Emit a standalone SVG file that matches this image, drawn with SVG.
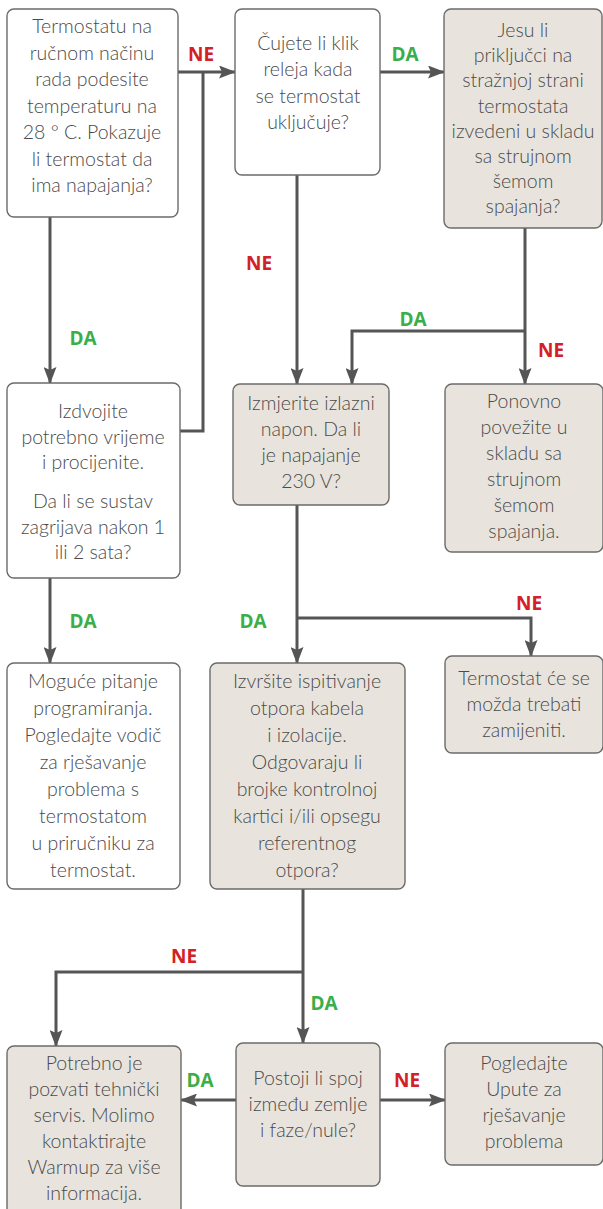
<svg xmlns="http://www.w3.org/2000/svg" width="603" height="1209" viewBox="0 0 603 1209">
<defs>
<marker id="ah" markerUnits="userSpaceOnUse" markerWidth="17" markerHeight="13" refX="16" refY="6.5" orient="auto">
<path d="M0,0 L17,6.5 L0,13 L3,6.5 z" fill="#555"/>
</marker>
<style>
.bw{fill:#fff;stroke:#6b6b6b;stroke-width:1.4}
.bg{fill:#e8e4dd;stroke:#6b6b6b;stroke-width:1.4}
.t{font-family:Lato,"Open Sans",sans-serif;font-weight:300;font-size:19.5px;fill:#4a4a4a;text-anchor:middle}
.c{fill:none;stroke:#555;stroke-width:3}
.ne{font-family:"Open Sans",Lato,sans-serif;font-weight:bold;font-size:19px;fill:#d42027;text-anchor:middle}
.da{font-family:"Open Sans",Lato,sans-serif;font-weight:bold;font-size:19px;fill:#3aae48;text-anchor:middle}
</style>
</defs>
<rect width="603" height="1209" fill="#fff"/>
<g id="connectors">
<path class="c" d="M178,72 H235" marker-end="url(#ah)"/>
<path class="c" d="M180,431 H203 V72"/>
<path class="c" d="M50,217 V383" marker-end="url(#ah)"/>
<path class="c" d="M380,72 H444" marker-end="url(#ah)"/>
<path class="c" d="M297,175 V384" marker-end="url(#ah)"/>
<path class="c" d="M525,228 V384" marker-end="url(#ah)"/>
<path class="c" d="M525,331 H352 V384" marker-end="url(#ah)"/>
<path class="c" d="M297,505 V663" marker-end="url(#ah)"/>
<path class="c" d="M297,618 H531 V656" marker-end="url(#ah)"/>
<path class="c" d="M50,578 V663" marker-end="url(#ah)"/>
<path class="c" d="M303,889 V1043" marker-end="url(#ah)"/>
<path class="c" d="M303,972 H56 V1046" marker-end="url(#ah)"/>
<path class="c" d="M236,1100 H181" marker-end="url(#ah)"/>
<path class="c" d="M380,1100 H445" marker-end="url(#ah)"/>
<text class="ne" x="201" y="61">NE</text>
<text class="da" x="405" y="61">DA</text>
<text class="da" x="83" y="345">DA</text>
<text class="ne" x="259" y="270">NE</text>
<text class="da" x="413" y="326">DA</text>
<text class="ne" x="551" y="357">NE</text>
<text class="da" x="83" y="628">DA</text>
<text class="da" x="253" y="628">DA</text>
<text class="ne" x="529" y="610">NE</text>
<text class="ne" x="184" y="963">NE</text>
<text class="da" x="324" y="1010">DA</text>
<text class="da" x="200" y="1087">DA</text>
<text class="ne" x="407" y="1087">NE</text>
</g>
<g id="n1">
<rect class="bw" x="7" y="9" width="171" height="208" rx="7"/>
<text class="t"><tspan x="92" y="33">Termostatu na</tspan><tspan x="92" y="60">ručnom načinu</tspan><tspan x="92" y="86">rada podesite</tspan><tspan x="92" y="113">temperaturu na</tspan><tspan x="92" y="139">28 ° C. Pokazuje</tspan><tspan x="92" y="166">li termostat da</tspan><tspan x="92" y="192">ima napajanja?</tspan></text>
</g>
<g id="n2">
<rect class="bw" x="235" y="9" width="145" height="166" rx="7"/>
<text class="t"><tspan x="308" y="50">Čujete li klik</tspan><tspan x="308" y="76">releja kada</tspan><tspan x="308" y="103">se termostat</tspan><tspan x="308" y="129">uključuje?</tspan></text>
</g>
<g id="n3">
<rect class="bg" x="444" y="9" width="158" height="219" rx="7"/>
<text class="t"><tspan x="523" y="37">Jesu li</tspan><tspan x="523" y="62">priključci na</tspan><tspan x="523" y="87">stražnjoj strani</tspan><tspan x="523" y="113">termostata</tspan><tspan x="523" y="138">izvedeni u skladu</tspan><tspan x="523" y="163">sa strujnom</tspan><tspan x="523" y="188">šemom</tspan><tspan x="523" y="213">spajanja?</tspan></text>
</g>
<g id="n4">
<rect class="bw" x="7" y="383" width="173" height="195" rx="7"/>
<text class="t"><tspan x="93" y="418">Izdvojite</tspan><tspan x="93" y="444">potrebno vrijeme</tspan><tspan x="93" y="469">i procijenite.</tspan><tspan x="93" y="508">Da li se sustav</tspan><tspan x="93" y="534">zagrijava nakon 1</tspan><tspan x="93" y="559">ili 2 sata?</tspan></text>
</g>
<g id="n5">
<rect class="bg" x="233" y="384" width="156" height="121" rx="7"/>
<text class="t"><tspan x="311" y="410">Izmjerite izlazni</tspan><tspan x="311" y="436">napon. Da li</tspan><tspan x="311" y="462">je napajanje</tspan><tspan x="311" y="488">230 V?</tspan></text>
</g>
<g id="n6">
<rect class="bg" x="445" y="384" width="158" height="168" rx="7"/>
<text class="t"><tspan x="524" y="408">Ponovno</tspan><tspan x="524" y="434">povežite u</tspan><tspan x="524" y="460">skladu sa</tspan><tspan x="524" y="486">strujnom</tspan><tspan x="524" y="512">šemom</tspan><tspan x="524" y="538">spajanja.</tspan></text>
</g>
<g id="n7">
<rect class="bw" x="7" y="663" width="173" height="226" rx="7"/>
<text class="t"><tspan x="93" y="688">Moguće pitanje</tspan><tspan x="93" y="715">programiranja.</tspan><tspan x="93" y="742">Pogledajte vodič</tspan><tspan x="93" y="769">za rješavanje</tspan><tspan x="93" y="796">problema s</tspan><tspan x="93" y="823">termostatom</tspan><tspan x="93" y="850">u priručniku za</tspan><tspan x="93" y="877">termostat.</tspan></text>
</g>
<g id="n8">
<rect class="bg" x="210" y="663" width="195" height="226" rx="7"/>
<text class="t"><tspan x="307" y="688">Izvršite ispitivanje</tspan><tspan x="307" y="715">otpora kabela</tspan><tspan x="307" y="742">i izolacije.</tspan><tspan x="307" y="769">Odgovaraju li</tspan><tspan x="307" y="796">brojke kontrolnoj</tspan><tspan x="307" y="823">kartici i/ili opsegu</tspan><tspan x="307" y="850">referentnog</tspan><tspan x="307" y="877">otpora?</tspan></text>
</g>
<g id="n9">
<rect class="bg" x="445" y="656" width="158" height="97" rx="7"/>
<text class="t"><tspan x="524" y="685">Termostat će se</tspan><tspan x="524" y="711">možda trebati</tspan><tspan x="524" y="737">zamijeniti.</tspan></text>
</g>
<g id="n10">
<rect class="bg" x="7" y="1046" width="174" height="170" rx="7"/>
<text class="t"><tspan x="94" y="1070">Potrebno je</tspan><tspan x="94" y="1096">pozvati tehnički</tspan><tspan x="94" y="1122">servis. Molimo</tspan><tspan x="94" y="1148">kontaktirajte</tspan><tspan x="94" y="1174">Warmup za više</tspan><tspan x="94" y="1200">informacija.</tspan></text>
</g>
<g id="n11">
<rect class="bg" x="236" y="1043" width="144" height="143" rx="7"/>
<text class="t"><tspan x="308" y="1085">Postoji li spoj</tspan><tspan x="308" y="1111">između zemlje</tspan><tspan x="308" y="1137">i faze/nule?</tspan></text>
</g>
<g id="n12">
<rect class="bg" x="445" y="1043" width="158" height="122" rx="7"/>
<text class="t"><tspan x="524" y="1070">Pogledajte</tspan><tspan x="524" y="1096">Upute za</tspan><tspan x="524" y="1122">rješavanje</tspan><tspan x="524" y="1148">problema</tspan></text>
</g>
</svg>
